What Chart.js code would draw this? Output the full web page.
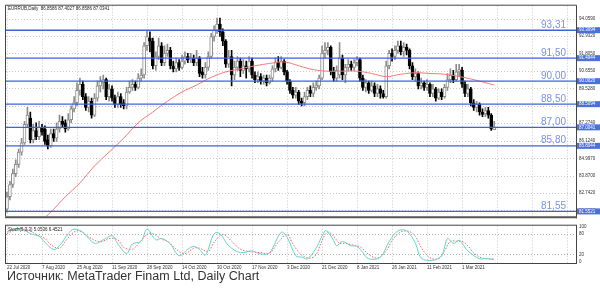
<!DOCTYPE html>
<html><head><meta charset="utf-8">
<script src="https://cdn.jsdelivr.net/npm/chart.js@4.4.1/dist/chart.umd.min.js"></script>
<style>
html,body{margin:0;padding:0;background:#fff;width:600px;height:290px;overflow:hidden;}
#wrap{position:relative;width:600px;height:290px;}
#c1{position:absolute;left:0;top:0;width:600px;height:222px;}
#c2{position:absolute;left:0;top:220px;width:600px;height:56px;}
#cap{position:absolute;left:7px;top:269px;font:12.5px "Liberation Sans",Arial,sans-serif;color:#333;white-space:nowrap;}
</style></head>
<body><div id="wrap">
<canvas id="c1" width="600" height="222"></canvas>
<canvas id="c2" width="600" height="56"></canvas>
<div id="cap">Источник: MetaTrader Finam Ltd, Daily Chart</div>
</div>
<script>
// ---- data ----
const dateLabels = ['22 Jul 2020','7 Aug 2020','25 Aug 2020','11 Sep 2020','28 Sep 2020','14 Oct 2020','30 Oct 2020','17 Nov 2020','3 Dec 2020','21 Dec 2020','8 Jan 2021','26 Jan 2021','11 Feb 2021','1 Mar 2021'];
const gridBars = [0,12,24,36,48,60,72,84,96,108,120,132,144,156,168,180,192];

const opens = [81.70,82.50,83.30,84.00,84.60,85.40,86.00,87.20,87.60,86.20,
86.80,86.40,87.00,86.90,86.20,85.80,86.60,86.30,86.90,87.40,
87.30,86.90,87.50,88.20,88.60,89.40,89.80,89.00,88.30,88.70,
87.80,88.90,89.70,89.90,90.10,89.00,89.50,88.90,88.50,89.00,
88.60,88.40,89.30,89.60,89.80,89.60,90.20,90.40,92.30,92.80,
92.60,91.00,91.60,92.30,91.20,91.80,92.00,91.00,90.80,91.20,
90.90,91.30,91.60,91.40,91.50,91.20,91.50,90.60,90.40,90.90,
91.60,92.90,93.30,93.70,93.20,92.60,91.10,91.60,90.40,90.90,
91.30,90.70,91.00,90.80,91.30,90.40,90.10,90.30,90.00,90.20,
89.90,90.20,90.80,91.20,90.90,91.30,90.60,90.00,89.40,89.10,
89.30,88.70,88.60,89.00,89.40,89.20,89.60,89.70,90.20,91.80,
92.00,92.20,90.60,90.20,90.40,91.50,90.40,90.90,91.10,90.90,
91.20,91.40,90.20,89.60,89.90,89.40,89.70,89.20,89.50,89.20,
89.00,91.00,91.80,91.60,92.00,92.30,91.90,92.20,92.00,91.00,
90.30,90.50,89.70,89.90,89.60,89.80,89.20,89.50,88.90,89.30,
89.00,89.60,90.10,90.40,90.10,90.60,90.70,89.80,89.20,89.50,
88.60,88.30,88.50,88.00,87.90,88.10,87.80,86.86];
const highs = [82.80,83.50,84.30,84.90,85.60,86.30,87.40,88.30,88.00,87.20,
87.30,87.40,87.20,87.10,86.50,86.90,86.90,87.30,87.80,87.70,
87.50,87.90,88.40,89.00,89.90,90.20,90.00,89.20,89.00,88.90,
89.20,90.00,90.30,90.40,90.20,89.80,89.70,89.10,89.30,89.20,
88.80,89.60,90.00,90.10,90.00,90.50,90.80,92.50,93.30,93.20,
92.80,91.90,92.80,92.50,92.30,92.40,92.20,91.30,91.50,91.40,
91.70,91.90,91.80,91.80,91.70,92.00,91.60,90.90,91.20,91.90,
93.10,93.60,94.10,94.10,93.40,92.70,92.00,92.00,91.30,91.60,
91.50,91.40,91.30,91.60,91.50,90.60,90.60,90.50,90.40,90.40,
90.40,91.00,91.50,91.60,91.60,91.40,90.70,90.10,89.60,89.60,
89.40,88.90,89.30,89.60,89.70,89.90,90.00,90.40,92.30,92.50,
92.50,92.30,90.90,91.00,92.50,91.70,91.10,91.40,91.30,91.40,
91.60,91.50,90.40,90.10,90.00,90.00,89.90,89.80,89.70,89.40,
91.30,92.00,92.10,92.30,92.60,92.60,92.50,92.40,92.10,91.20,
90.80,90.60,90.20,90.00,90.10,89.90,89.80,89.60,89.50,89.50,
89.80,90.50,90.80,90.70,91.10,91.10,90.90,90.00,89.80,89.60,
88.80,88.70,88.60,88.20,88.30,88.30,87.90,87.40];
const lows = [81.50,82.30,83.10,83.80,84.40,85.20,85.90,87.00,86.00,86.00,
86.20,86.20,86.50,85.90,85.60,85.70,86.10,86.10,86.70,87.00,
86.70,86.80,87.30,88.00,88.40,89.10,88.80,88.10,88.00,87.60,
87.70,88.70,89.30,89.50,88.80,88.70,88.70,88.30,88.30,88.30,
88.20,88.20,89.20,89.40,89.40,89.50,90.00,90.20,92.00,91.90,
90.80,90.70,91.40,91.00,91.00,91.60,90.80,90.60,90.60,90.70,
90.80,91.10,91.20,91.20,91.00,91.00,90.30,90.20,90.20,90.70,
91.50,92.60,93.10,92.90,92.30,90.90,90.90,89.70,90.10,90.70,
90.30,90.50,90.20,90.60,90.20,89.90,89.90,89.80,89.80,89.70,
89.80,90.00,90.60,90.70,90.80,90.40,89.80,89.20,88.90,88.90,
88.50,88.40,88.40,88.80,89.00,89.00,89.40,89.50,90.10,91.50,
91.70,90.40,90.00,90.00,90.20,90.10,89.90,90.70,90.70,90.70,
91.00,90.00,89.40,89.30,89.20,89.30,89.00,89.00,88.90,88.90,
88.90,90.80,91.30,91.40,91.80,91.70,91.60,91.70,90.80,90.10,
90.00,89.50,89.50,89.40,89.40,89.00,89.00,88.70,88.80,88.80,
88.90,89.40,89.90,89.90,90.00,90.30,89.60,89.00,89.00,88.40,
88.10,88.00,87.80,87.70,87.70,87.60,86.80,86.86];
const closes = [82.50,83.30,84.00,84.60,85.40,86.00,87.20,87.80,86.20,86.80,
86.40,87.00,86.70,86.10,85.80,86.60,86.30,86.90,87.40,87.20,
86.90,87.50,88.20,88.60,89.40,89.80,89.00,88.30,88.70,87.80,
88.90,89.70,90.00,90.10,89.00,89.50,88.90,88.50,89.00,88.50,
88.40,89.30,89.60,89.80,89.60,90.20,90.40,92.30,92.90,92.60,
91.00,91.60,92.30,91.20,91.80,92.00,91.00,90.80,91.20,90.90,
91.30,91.60,91.40,91.50,91.20,91.50,90.50,90.40,90.90,91.60,
92.90,93.30,93.70,93.20,92.60,91.10,91.60,90.40,90.90,91.30,
90.70,91.00,90.80,91.30,90.40,90.10,90.30,90.00,90.20,89.90,
90.20,90.80,91.20,90.90,91.30,90.60,90.00,89.40,89.10,89.30,
88.70,88.55,89.00,89.40,89.20,89.60,89.75,90.20,91.80,92.00,
92.20,90.60,90.20,90.70,91.50,90.40,90.90,91.10,90.90,91.20,
91.40,90.20,89.60,89.90,89.40,89.70,89.20,89.50,89.20,89.00,
91.00,91.80,91.60,92.00,92.30,91.90,92.20,92.00,91.00,90.30,
90.50,89.70,89.90,89.60,89.80,89.20,89.50,88.90,89.30,89.00,
89.60,90.10,90.40,90.10,90.60,90.75,89.80,89.20,89.50,88.60,
88.30,88.50,88.00,87.85,88.10,87.80,86.90,87.03];

const maBars   = [12,15,20,25,30,35,40,45,50,55,60,65,70,75,80,85,90,95,100,105,110,115,120,125,130,135,140,145,150,155,160,167];
const maValues = [81.0,81.5,82.5,83.4,84.5,85.4,86.3,87.3,88.0,88.7,89.3,89.75,90.25,90.6,90.8,91.0,91.15,91.25,91.0,90.75,90.65,90.65,90.65,90.5,90.3,90.45,90.55,90.5,90.45,90.3,90.1,89.75];

const stochKBars   = [0,2,4,6,8,11,13,16,18,21,23,26,30,33,36,38,41,43,46,48,51,53,56,59,62,64,66,68,71,73,76,80,84,87,90,94,96,99,101,103,106,109,110,112,113,115,118,120,122,124,128,131,134,137,140,142,146,149,151,153,155,156,158,162,164,167];
const stochKValues = [85,92,95,90,80,72,55,34,45,80,93,84,52,62,74,50,23,50,58,93,62,66,50,16,35,43,34,18,80,80,45,25,30,21,25,84,70,16,12,7,39,88,85,60,45,57,45,43,25,7,12,57,88,88,52,9,3,16,66,52,61,52,30,7,8,5.05];
const stochDBars   = [0,2,4,6,8,10,13,15,18,20,23,25,28,32,35,38,40,43,45,48,50,53,55,58,61,64,66,69,71,74,77,80,84,87,90,93,96,98,101,104,106,108,110,112,114,116,118,121,124,127,130,132,135,138,140,142,145,148,150,152,154,156,158,160,163,167];
const stochDValues = [80,88,93,93,87,78,66,48,38,58,85,88,70,56,66,62,40,35,50,78,80,64,58,35,22,38,38,28,55,78,58,35,27,25,23,55,78,50,18,9,20,60,85,72,52,52,48,42,20,9,30,60,85,86,72,40,10,8,30,58,58,57,45,24,9,6.45];

const priceTicks      = [94.059,92.932,91.805,90.655,89.528,88.401,87.274,86.124,84.997,83.870,82.742,81.615];
const priceTickLabels = ['94.0590','92.9320','91.8050','90.6550','89.5280','88.4010','87.2740','86.1240','84.9970','83.8700','82.7420','81.6150'];
const levelValues = [93.3094,91.4944,90.0020,88.5094,87.0041,85.8044,81.5521];
const levelNames  = ['93,31','91,50','90,00','88,50','87,00','85,80','81,55'];
const levelBoxes  = ['93.3094','91.4944','90.0020','88.5094','87.0041','85.8044','81.5521'];
const stochTicks = [100,80,20,0];
const stochTickLabels = ['100','80','20','0'];
const headerText = 'EURRUB,Daily  86.8586 87.4027 86.8586 87.0341';
const stochText = 'Stoch(5,3,3) 5.0536 6.4521';

// ---- layout constants ----
const xMin = -0.343, xMax = 195.06;
const yMin = 81.234, yMax = 94.898;
const TF = {size:4.5, family:'Liberation Sans, Arial, sans-serif'};

const bars = opens.map((_, i) => i);
const bull = bars.map(i => closes[i] >= opens[i]);
const wickData = bars.map(i => ({x:i, y:[lows[i], highs[i]]}));
const bodyData = bars.map(i => ({x:i, y:[Math.min(opens[i],closes[i]), Math.max(opens[i],closes[i])]}));

function vgrid(ctx, a, x){
  ctx.strokeStyle='#c9c9c9'; ctx.lineWidth=1; ctx.setLineDash([1,2]);
  gridBars.forEach(b=>{const px=Math.round(x.getPixelForValue(b))+0.5;
    if(px>a.left+1&&px<a.right-1){ctx.beginPath();ctx.moveTo(px,a.top);ctx.lineTo(px,a.bottom);ctx.stroke();}});
}

const p1 = {
  id:'p1',
  beforeDatasetsDraw(chart){
    const {ctx, chartArea:a, scales:{x,y}} = chart;
    ctx.save();
    vgrid(ctx,a,x);
    priceTicks.forEach(v=>{const py=Math.round(y.getPixelForValue(v))+0.5;
      ctx.beginPath();ctx.moveTo(a.left,py);ctx.lineTo(a.right,py);ctx.stroke();});
    ctx.restore();
  },
  afterDatasetsDraw(chart){
    const {ctx, chartArea:a, scales:{y}} = chart;
    ctx.save();
    levelValues.forEach((v,k)=>{
      const py=y.getPixelForValue(v);
      ctx.strokeStyle='#3d62d8'; ctx.lineWidth=1.4;
      ctx.beginPath();ctx.moveTo(a.left,py);ctx.lineTo(a.right,py);ctx.stroke();
      ctx.fillStyle='#7693e4'; ctx.font='10px "Liberation Sans", Arial, sans-serif';
      ctx.textAlign='left'; ctx.textBaseline='alphabetic';
      ctx.fillText(levelNames[k], 541, py-2.5);
    });
    ctx.restore();
  },
  afterDraw(chart){
    const {ctx, chartArea:a, scales:{y}} = chart;
    ctx.save();
    ctx.strokeStyle='#444'; ctx.lineWidth=1;
    ctx.beginPath();
    ctx.moveTo(a.left-0.5,a.bottom); ctx.lineTo(a.left-0.5,a.top-0.5); ctx.lineTo(a.right+0.5,a.top-0.5); ctx.lineTo(a.right+0.5,a.bottom+2);
    ctx.stroke();
    ctx.strokeStyle='#555'; ctx.lineWidth=2;
    ctx.beginPath(); ctx.moveTo(a.left-1,a.bottom+1); ctx.lineTo(a.right+1,a.bottom+1); ctx.stroke();
    levelValues.forEach((v,k)=>{
      const py=y.getPixelForValue(v);
      ctx.fillStyle='#4a70dc'; ctx.fillRect(a.right+1, py-3, 23, 6);
      ctx.fillStyle='#fff'; ctx.font='4.5px "Liberation Sans", Arial, sans-serif';
      ctx.textAlign='left'; ctx.textBaseline='middle';
      ctx.fillText(levelBoxes[k], a.right+3, py);
    });
    ctx.fillStyle='#222'; ctx.font='4.5px "Liberation Sans", Arial, sans-serif';
    ctx.textAlign='left'; ctx.textBaseline='middle';
    ctx.fillText(headerText, 8, 8.5);
    ctx.restore();
  }
};

new Chart(document.getElementById('c1'), {
  type:'bar',
  data:{datasets:[
    {type:'line', data: maBars.map((b,k)=>({x:b,y:maValues[k]})), borderColor:'#f07a7a', borderWidth:1, pointRadius:0, tension:0.4, order:1},
    {data: bodyData, backgroundColor: bars.map(i=>bull[i]?'#ffffff':'#000000'), borderColor: bars.map(i=>bull[i]?'#8c8c8c':'#000000'), borderWidth:1, borderSkipped:false, barThickness:3, grouped:false, order:2},
    {data: wickData, backgroundColor: bars.map(i=>bull[i]?'#8c8c8c':'#000000'), borderWidth:0, barThickness:1, grouped:false, order:3}
  ]},
  options:{
    responsive:false, animation:false, devicePixelRatio:1,
    layout:{padding:{left:6, top:5, right:0, bottom:2}},
    plugins:{legend:{display:false}, tooltip:{enabled:false}},
    scales:{
      x:{type:'linear', min:xMin, max:xMax, display:false, offset:false},
      y:{position:'right', min:yMin, max:yMax,
         afterFit(s){s.width=24;},
         afterBuildTicks(s){s.ticks=priceTicks.map(v=>({value:v}));},
         grid:{display:false, drawTicks:false}, border:{display:false},
         ticks:{font:TF, color:'#333', padding:3, autoSkip:false, callback:(v,i)=>priceTickLabels[i]}}
    }
  },
  plugins:[p1]
});

const p2 = {
  id:'p2',
  beforeDatasetsDraw(chart){
    const {ctx, chartArea:a, scales:{x,y}} = chart;
    ctx.save();
    vgrid(ctx,a,x);
    ctx.strokeStyle='#b0b0b0';
    [20,80].forEach(v=>{const py=Math.round(y.getPixelForValue(v))+0.5;
      ctx.beginPath();ctx.moveTo(a.left,py);ctx.lineTo(a.right,py);ctx.stroke();});
    ctx.restore();
  },
  afterDraw(chart){
    const {ctx, chartArea:a} = chart;
    ctx.save();
    ctx.strokeStyle='#444'; ctx.lineWidth=1;
    ctx.strokeRect(a.left-0.5, a.top-0.5, a.right-a.left+1, a.bottom-a.top+1);
    ctx.fillStyle='#222'; ctx.font='4.5px "Liberation Sans", Arial, sans-serif';
    ctx.textAlign='left'; ctx.textBaseline='middle';
    ctx.fillText(stochText, 8, a.top+4);
    ctx.restore();
  }
};

new Chart(document.getElementById('c2'), {
  type:'line',
  data:{datasets:[
    {data: stochKBars.map((b,k)=>({x:b,y:stochKValues[k]})), borderColor:'#62d4c8', borderWidth:1, pointRadius:0, tension:0.35},
    {data: stochDBars.map((b,k)=>({x:b,y:stochDValues[k]})), borderColor:'#f06a6a', borderWidth:1, borderDash:[1.5,1.5], pointRadius:0, tension:0.35}
  ]},
  options:{
    responsive:false, animation:false, devicePixelRatio:1,
    layout:{padding:{left:6, top:3, right:0, bottom:0}},
    plugins:{legend:{display:false}, tooltip:{enabled:false}},
    scales:{
      x:{type:'linear', min:xMin, max:xMax, offset:false,
         afterFit(s){s.height=13;},
         afterBuildTicks(s){s.ticks=gridBars.map(v=>({value:v}));},
         grid:{display:false, drawTicks:false}, border:{display:false},
         ticks:{autoSkip:false, maxRotation:0, minRotation:0, align:'start', padding:2, font:TF, color:'#333', callback:(v,i)=>dateLabels[i]||''}},
      y:{position:'right', min:-5, max:103,
         afterFit(s){s.width=24;},
         afterBuildTicks(s){s.ticks=stochTicks.map(v=>({value:v}));},
         grid:{display:false, drawTicks:false}, border:{display:false},
         ticks:{font:TF, color:'#333', padding:3, autoSkip:false, callback:(v,i)=>stochTickLabels[i]}}
    }
  },
  plugins:[p2]
});
</script>
</body></html>
